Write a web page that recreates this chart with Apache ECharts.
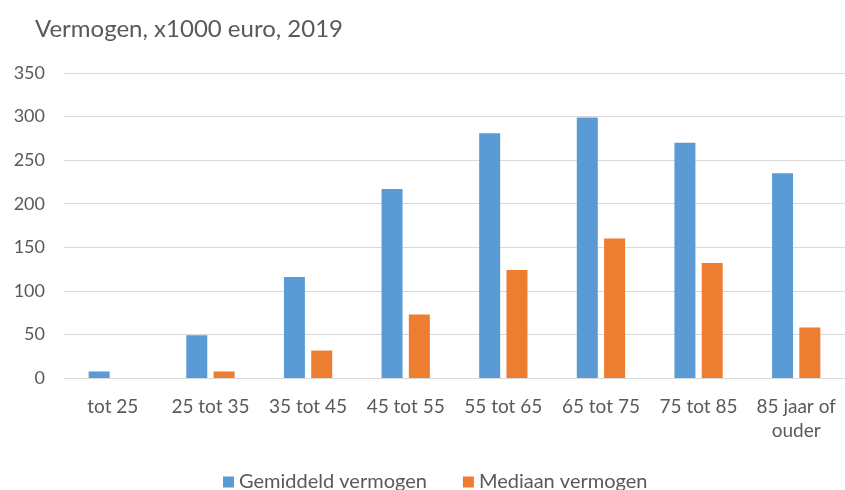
<!DOCTYPE html>
<html>
<head>
<meta charset="utf-8">
<script src="https://cdn.jsdelivr.net/npm/echarts@6/dist/echarts.min.js"></script>
<style>
  html, body { margin: 0; padding: 0; background: #fff; }
  #chart { width: 845px; height: 490px; }
</style>
</head>
<body>
<div id="chart"></div>
<script>
const categories = ["tot 25", "25 tot 35", "35 tot 45", "45 tot 55", "55 tot 65", "65 tot 75", "75 tot 85", "85 jaar of\nouder"];
const gemiddeld = [7.5, 49, 116, 217, 281, 299, 270, 235];
const mediaan = [0, 7.5, 31.5, 73, 124, 160, 132, 58];
const yTicks = { min: 0, max: 350, interval: 50 };

const textColor = "#595959";
const font = "Lato, 'Open Sans', sans-serif";

let myChart = echarts.init(document.getElementById("chart"));
myChart.setOption({
  animation: false,
  title: {
    text: "Vermogen, x1000 euro, 2019",
    left: 30,
    top: 12,
    textStyle: {
      color: textColor,
      fontSize: 24,
      fontWeight: "normal",
      fontFamily: font,
    },
  },
  grid: {
    left: 64,
    right: 0,
    top: 73,
    bottom: 112,
  },
  legend: {
    bottom: -7,
    left: 218,
    itemGap: 36,
    itemWidth: 11,
    itemHeight: 11,
    icon: "rect",
    textStyle: {
      color: textColor,
      fontSize: 20,
      fontFamily: font,
    },
  },
  xAxis: {
    type: "category",
    data: categories,
    axisTick: { show: false },
    axisLine: { lineStyle: { color: "#d9d9d9" } },
    axisLabel: {
      interval: 0,
      margin: 17,
      color: textColor,
      fontSize: 19,
      lineHeight: 24,
      fontFamily: font,
    },
  },
  yAxis: {
    type: "value",
    min: yTicks.min,
    max: yTicks.max,
    interval: yTicks.interval,
    axisLabel: {
      margin: 19,
      color: textColor,
      fontSize: 18,
      fontFamily: font,
    },
    splitLine: { lineStyle: { color: "#d9d9d9" } },
  },
  series: [
    {
      name: "Gemiddeld vermogen",
      type: "bar",
      barWidth: 21,
      barGap: "30%",
      itemStyle: { color: "#5B9BD5" },
      data: gemiddeld,
    },
    {
      name: "Mediaan vermogen",
      type: "bar",
      barWidth: 21,
      itemStyle: { color: "#ED7D31" },
      data: mediaan,
    },
  ],
});
</script>
</body>
</html>
